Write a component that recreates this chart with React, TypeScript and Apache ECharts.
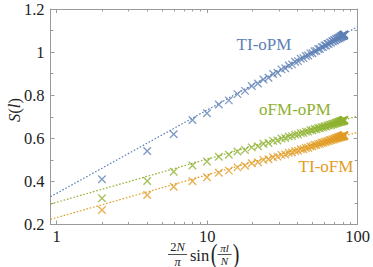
import React, { useEffect, useRef } from "react";
import * as echarts from "echarts";

// x = (2N/pi) sin(pi l / N) for l = 1..64
const xValues = [
  2.0, 3.997, 5.995, 7.987, 9.975, 11.957, 13.931, 15.897, 17.854, 19.8,
  21.734, 23.654, 25.561, 27.452, 29.327, 31.184, 33.022, 34.841, 36.638, 38.413,
  40.165, 41.893, 43.596, 45.272, 46.921, 48.542, 50.134, 51.695, 53.226, 54.724,
  56.189, 57.62, 59.017, 60.378, 61.703, 62.991, 64.24, 65.452, 66.623, 67.755,
  68.845, 69.894, 70.901, 71.866, 72.787, 73.664, 74.497, 75.284, 76.027, 76.724,
  77.374, 77.978, 78.535, 79.045, 79.507, 79.921, 80.287, 80.605, 80.874, 81.095,
  81.266, 81.389, 81.462, 81.487,
];

const tiOpm = [
  0.41, 0.541, 0.619, 0.685, 0.716, 0.757, 0.776, 0.805, 0.82, 0.843,
  0.854, 0.873, 0.881, 0.898, 0.904, 0.92, 0.925, 0.938, 0.943, 0.955,
  0.958, 0.969, 0.972, 0.982, 0.984, 0.994, 0.995, 1.004, 1.005, 1.014,
  1.014, 1.023, 1.023, 1.031, 1.031, 1.039, 1.038, 1.045, 1.044, 1.051,
  1.05, 1.056, 1.054, 1.061, 1.059, 1.065, 1.063, 1.068, 1.066, 1.072,
  1.069, 1.074, 1.072, 1.077, 1.074, 1.079, 1.075, 1.08, 1.077, 1.081,
  1.077, 1.082, 1.078, 1.082,
];

const ofmOpm = [
  0.322, 0.402, 0.445, 0.474, 0.492, 0.514, 0.524, 0.539, 0.546, 0.558,
  0.563, 0.575, 0.578, 0.588, 0.59, 0.599, 0.601, 0.608, 0.61, 0.617,
  0.618, 0.624, 0.625, 0.631, 0.631, 0.637, 0.637, 0.643, 0.642, 0.648,
  0.647, 0.652, 0.651, 0.656, 0.655, 0.66, 0.659, 0.663, 0.662, 0.666,
  0.665, 0.669, 0.668, 0.672, 0.671, 0.675, 0.673, 0.677, 0.675, 0.679,
  0.677, 0.68, 0.678, 0.682, 0.68, 0.683, 0.681, 0.684, 0.682, 0.685,
  0.682, 0.685, 0.683, 0.685,
];

const tiOfm = [
  0.267, 0.337, 0.375, 0.401, 0.419, 0.44, 0.45, 0.465, 0.473, 0.484,
  0.489, 0.5, 0.503, 0.512, 0.515, 0.523, 0.525, 0.533, 0.534, 0.541,
  0.542, 0.549, 0.549, 0.555, 0.556, 0.562, 0.563, 0.569, 0.569, 0.574,
  0.574, 0.579, 0.579, 0.584, 0.583, 0.588, 0.587, 0.592, 0.591, 0.595,
  0.594, 0.598, 0.597, 0.601, 0.6, 0.604, 0.602, 0.606, 0.604, 0.608,
  0.606, 0.609, 0.607, 0.611, 0.608, 0.612, 0.609, 0.613, 0.61, 0.613,
  0.611, 0.614, 0.612, 0.614,
];

// fit line endpoints [x, S]
const fitTiOpm = [[0.91, 0.329], [100, 1.118]];
const fitOfmOpm = [[0.91, 0.295], [100, 0.703]];
const fitTiOfm = [[0.91, 0.224], [100, 0.628]];

const seriesNames = ["TI-oPM", "oFM-oPM", "TI-oFM"];
const colors = ["#5E81B5", "#8FB131", "#E19C24"];

const xMajor = [1, 10, 100];
const xMinor = [2, 3, 4, 5, 6, 7, 8, 9, 20, 30, 40, 50, 60, 70, 80, 90];
const xMin = 0.91;
const xMax = 100;
const yMin = 0.2;
const yMax = 1.2;

const FONT = "'Liberation Serif', 'DejaVu Serif', serif";
const FRAME = "#9a9a9a";

export default function App() {
  const ref = useRef<HTMLDivElement>(null);
  useEffect(() => {
    if (!ref.current) return;
    const chart = echarts.init(ref.current, null, { renderer: "svg" });
    const lg = (v: number) => Math.log10(v);
    const ys = [tiOpm, ofmOpm, tiOfm];
    const fits = [fitTiOpm, fitOfmOpm, fitTiOfm];

    const xBase = (position: string, ticks: number[], len: number, labels: boolean) => ({
      type: "value",
      gridIndex: 0,
      position,
      min: lg(xMin),
      max: lg(xMax),
      axisLine: { show: true, onZero: false, lineStyle: { color: FRAME, width: 1 } },
      axisTick: {
        show: true,
        inside: true,
        length: len,
        customValues: ticks.map(lg),
        lineStyle: { color: FRAME, width: 1 },
      },
      axisLabel: labels
        ? {
            show: true,
            customValues: xMajor.map(lg),
            formatter: (v: number) => String(Math.round(Math.pow(10, v))),
            fontFamily: FONT,
            fontSize: 16.5,
            color: "#222",
            margin: 3,
          }
        : { show: false },
      splitLine: { show: false },
    });

    const yBase = (position: string, labels: boolean) => ({
      type: "value",
      position,
      min: yMin,
      max: yMax,
      interval: 0.2,
      axisLine: { show: true, onZero: false, lineStyle: { color: FRAME, width: 1 } },
      axisTick: { show: true, inside: true, length: 4, lineStyle: { color: FRAME } },
      minorTick: { show: true, splitNumber: 2, length: 3, lineStyle: { color: FRAME } },
      axisLabel: labels
        ? {
            show: true,
            formatter: (v: number) => String(parseFloat(v.toFixed(1))),
            fontFamily: FONT,
            fontSize: 16.5,
            color: "#222",
            margin: 6,
          }
        : { show: false },
      splitLine: { show: false },
    });

    const series: any[] = [];
    ys.forEach((arr, i) => {
      series.push({
        type: "line",
        name: seriesNames[i] + " fit",
        xAxisIndex: 0,
        yAxisIndex: 0,
        data: fits[i].map((p) => [lg(p[0]), p[1]]),
        showSymbol: false,
        symbol: "none",
        lineStyle: { color: colors[i], width: 1.2, type: [1.6, 1.8] },
        z: 1,
      });
      series.push({
        type: "scatter",
        name: seriesNames[i],
        xAxisIndex: 0,
        yAxisIndex: 0,
        data: arr.map((y, k) => [lg(xValues[k]), y]),
        symbol: "path://M0,0L10,10M10,0L0,10",
        symbolSize: 7.5,
        itemStyle: { color: "rgba(0,0,0,0)", borderColor: colors[i], borderWidth: 1.3 },
        z: 2,
      });
    });

    const fracText = (text: string, x: number, y: number, size: number, rich = true) => ({
      type: "text",
      x,
      y,
      style: {
        text,
        fontFamily: FONT,
        fontSize: size,
        fill: "#222",
        align: "center",
        verticalAlign: "middle",
        rich: rich
          ? { i: { fontStyle: "italic", fontFamily: FONT, fontSize: size, fill: "#222" } }
          : undefined,
      },
    });

    chart.setOption({
      animation: false,
      grid: { left: 50.5, right: 12, top: 9, bottom: 42.5, containLabel: false },
      xAxis: [
        xBase("bottom", xMajor, 4, true),
        xBase("bottom", xMinor, 2.5, false),
        xBase("top", xMajor, 4, false),
        xBase("top", xMinor, 2.5, false),
      ],
      yAxis: [yBase("left", true), yBase("right", false)],
      series,
      graphic: [
        {
          type: "text",
          x: 14,
          y: 110,
          rotation: Math.PI / 2,
          style: {
            text: "{i|S}({i|l})",
            fontFamily: FONT,
            fontSize: 16.5,
            fill: "#222",
            align: "center",
            verticalAlign: "middle",
            rich: { i: { fontStyle: "italic", fontFamily: FONT, fontSize: 16.5, fill: "#222" } },
          },
        },
        fracText("2{i|N}", 177.5, 247, 12.5),
        { type: "line", shape: { x1: 168, y1: 254.5, x2: 187, y2: 254.5 }, style: { stroke: "#222", lineWidth: 0.8 } },
        fracText("{i|π}", 177.5, 261.5, 12.5),
        fracText("sin", 199.5, 255, 16.5, false),
        {
          type: "text",
          x: 214,
          y: 253.5,
          scaleY: 1.35,
          style: { text: "(", fontFamily: FONT, fontSize: 20, fill: "#222", align: "center", verticalAlign: "middle" },
        },
        fracText("{i|πl}", 224.5, 248, 11),
        { type: "line", shape: { x1: 217.5, y1: 254.5, x2: 231.5, y2: 254.5 }, style: { stroke: "#222", lineWidth: 0.8 } },
        fracText("{i|N}", 224.5, 261, 11),
        {
          type: "text",
          x: 236,
          y: 253.5,
          scaleY: 1.35,
          style: { text: ")", fontFamily: FONT, fontSize: 20, fill: "#222", align: "center", verticalAlign: "middle" },
        },
        {
          type: "text",
          x: 264,
          y: 44,
          style: { text: seriesNames[0], fontFamily: FONT, fontSize: 17, fill: colors[0], align: "center", verticalAlign: "middle" },
        },
        {
          type: "text",
          x: 295,
          y: 109,
          style: { text: seriesNames[1], fontFamily: FONT, fontSize: 17, fill: colors[1], align: "center", verticalAlign: "middle" },
        },
        {
          type: "text",
          x: 326,
          y: 166,
          style: { text: seriesNames[2], fontFamily: FONT, fontSize: 17, fill: colors[2], align: "center", verticalAlign: "middle" },
        },
      ],
    });
    return () => chart.dispose();
  }, []);
  return <div ref={ref} style={{ width: 373, height: 267, position: "absolute", left: 0, top: 0 }} />;
}
